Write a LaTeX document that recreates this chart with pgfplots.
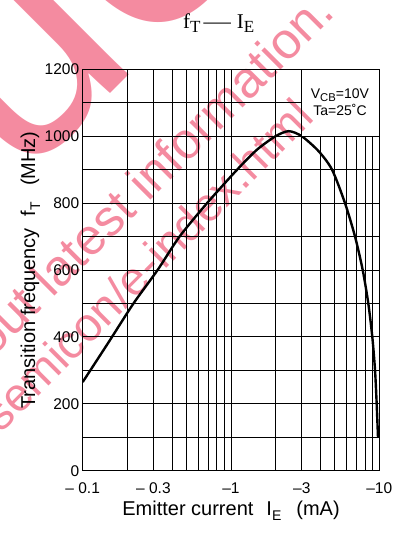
\documentclass[border=0pt]{standalone}
\usepackage{fontspec}
\setmainfont{Liberation Sans}
\newfontfamily\serifface{Liberation Serif}
\usepackage{graphicx}
\usepackage{pgfplots}
\pgfplotsset{compat=1.18}

\definecolor{stamp}{RGB}{244,139,160}
% subscript at a given size, lowered by a given amount
\newcommand\sub[3]{\raisebox{-#2}{\fontsize{#1}{#1}\selectfont #3}}

\begin{document}
\begin{tikzpicture}[x=1pt,y=1pt]
\useasboundingbox (0,0) rectangle (400,534);
\clip (0,0) rectangle (400,534);

% title
\node[anchor=base, font=\serifface\fontsize{21}{21}\selectfont, inner sep=0pt]
  at (218.7,505.7) {f\sub{17}{4pt}{T}\hspace{3pt}\scalebox{1.3}[1]{—}\hspace{6pt}I\sub{17}{4pt}{E}};

\begin{axis}[
  at={(82.7pt,63.3pt)}, anchor=south west,
  scale only axis, width=296.6pt, height=401.4pt,
  xmode=log, xmin=0.1, xmax=10, ymin=0, ymax=1200,
  xtick={0.1,0.3,1,3,10},
  xticklabels={– 0.1,– 0.3,–1,–3,–10},
  minor xtick={0.2,0.4,0.5,0.6,0.7,0.8,0.9,2,4,5,6,7,8,9},
  ytick={0,200,400,600,800,1000,1200},
  yticklabels={0,200,400,600,800,1000,1200},
  minor ytick={100,300,500,700,900,1100},
  grid=both,
  major grid style={black, line width=0.8pt},
  minor grid style={black, line width=0.8pt},
  major tick length=0pt, minor tick length=0pt,
  axis line style={black, line width=1.3pt},
  tick label style={font=\fontsize{15.5}{15.5}\selectfont},
  xticklabel style={anchor=base, yshift=-22.6pt},
  xlabel={Emitter current\hspace{13pt}I\sub{14}{5pt}{E}\hspace{15pt}(mA)},
  ylabel={Transition frequency\hspace{12pt}f\sub{14}{5pt}{T}\hspace{16pt}(MHz)},
  label style={font=\fontsize{20}{20}\selectfont},
  xlabel style={at={(axis description cs:0.5,-0.1104)}, anchor=base},
  ylabel style={at={(axis description cs:-0.1608,0.5)}, anchor=base, rotate=0},
]
\addplot[black, line width=2.4pt, smooth, tension=0.45] coordinates {
  (0.1,265) (0.15,385) (0.22,500) (0.32,600) (0.45,700) (0.69,800)
  (1.1,900) (1.5,960) (2.0,1000) (2.45,1015) (3.0,1000) (3.9,955)
  (4.8,900) (5.87,800) (6.86,700) (7.73,600) (8.43,500) (8.97,400)
  (9.36,300) (9.6,200) (9.8,100)
};
\draw[black, line width=1pt, fill=white] (axis cs:3,1000) rectangle (axis cs:10,1200);
\node[align=center, font=\fontsize{14}{17.7}\selectfont, inner sep=0pt]
  at (axis cs:5.43,1102) {V\sub{11.3}{3pt}{CB}=10V\\Ta=25˚C};
\end{axis}

% pink overprint stamp
\begin{scope}[blend mode=multiply, stamp]
  \node[rotate=45, anchor=base west, inner sep=0pt, font=\fontsize{320}{320}\selectfont]
    at (18.6,348.6) {ue};
  \node[rotate=45, anchor=base east, inner sep=0pt, font=\fontsize{51}{51}\selectfont]
    at (337,520) {about latest information.};
  \node[rotate=45, anchor=base east, inner sep=0pt, font=\fontsize{47}{47}\selectfont]
    at (315.7,414.7) {semicon/e-index.html};
\end{scope}
\end{tikzpicture}
\end{document}
